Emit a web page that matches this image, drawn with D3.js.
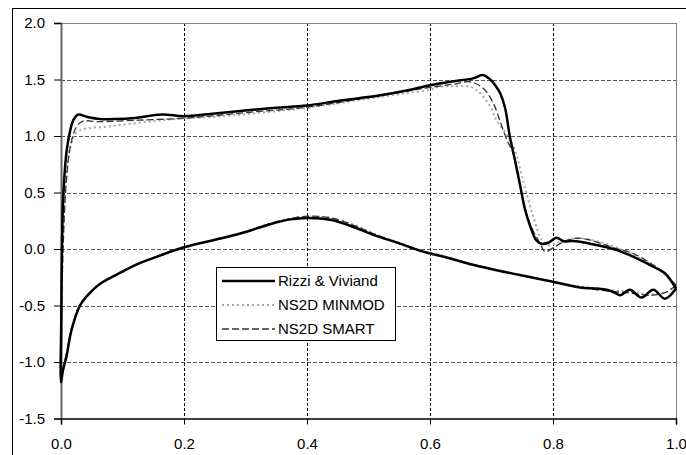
<!DOCTYPE html>
<html>
<head>
<meta charset="utf-8">
<script src="https://cdn.jsdelivr.net/npm/d3@7"></script>
<style>
  body { margin: 0; background: #fff; }
  text { font-family: "Liberation Sans", Arial, sans-serif; }
</style>
</head>
<body>
<svg id="drawing_region"></svg>
<script>
// tick values
const xTicks = [0, 0.2, 0.4, 0.6, 0.8, 1.0];
const yTicks = [-1.5, -1.0, -0.5, 0.0, 0.5, 1.0, 1.5, 2.0];

// Rizzi & Viviand
const rizziUpperX = [0, 0.0005, 0.0015, 0.004, 0.009, 0.015, 0.02, 0.028, 0.042, 0.063, 0.09, 0.12, 0.164, 0.2, 0.25, 0.307, 0.35, 0.4, 0.45, 0.519, 0.56, 0.6, 0.633, 0.67, 0.686, 0.698, 0.706, 0.714, 0.722, 0.730, 0.738, 0.746, 0.754, 0.763, 0.773, 0.782, 0.792, 0.806, 0.817, 0.83, 0.844, 0.871, 0.904, 0.931, 0.963, 0.982, 1.0];
const rizziUpperCp = [-1.18, -0.6, 0.0, 0.5, 0.86, 1.05, 1.14, 1.19, 1.17, 1.15, 1.15, 1.16, 1.19, 1.175, 1.2, 1.23, 1.25, 1.27, 1.31, 1.36, 1.40, 1.45, 1.48, 1.51, 1.54, 1.50, 1.45, 1.38, 1.25, 0.99, 0.79, 0.58, 0.36, 0.2, 0.075, 0.045, 0.055, 0.10, 0.068, 0.07, 0.065, 0.035, -0.01, -0.07, -0.157, -0.215, -0.35];
const rizziLowerX = [0, 0.003, 0.009, 0.017, 0.031, 0.045, 0.063, 0.1, 0.126, 0.16, 0.2, 0.261, 0.3, 0.337, 0.37, 0.402, 0.44, 0.478, 0.508, 0.55, 0.584, 0.63, 0.67, 0.71, 0.746, 0.8, 0.844, 0.87, 0.887, 0.9, 0.909, 0.925, 0.944, 0.963, 0.982, 1.0];
const rizziLowerCp = [-1.18, -1.08, -0.95, -0.72, -0.5, -0.40, -0.31, -0.2, -0.13, -0.06, 0.015, 0.095, 0.15, 0.215, 0.26, 0.275, 0.257, 0.19, 0.125, 0.05, -0.015, -0.08, -0.14, -0.19, -0.23, -0.29, -0.34, -0.35, -0.36, -0.385, -0.41, -0.36, -0.43, -0.36, -0.44, -0.35];

// NS2D MINMOD
const minmodUpperX = [0, 0.001, 0.004, 0.008, 0.015, 0.025, 0.044, 0.07, 0.099, 0.15, 0.2, 0.25, 0.315, 0.4, 0.5, 0.55, 0.6, 0.616, 0.64, 0.665, 0.681, 0.698, 0.708, 0.724, 0.738, 0.754, 0.768, 0.782, 0.792, 0.806, 0.822, 0.844, 0.87, 0.9, 0.93, 0.96, 0.98, 1.0];
const minmodUpperCp = [-1.18, -0.5, 0.2, 0.6, 0.9, 1.03, 1.07, 1.08, 1.10, 1.13, 1.157, 1.17, 1.2, 1.25, 1.33, 1.37, 1.41, 1.436, 1.44, 1.436, 1.38, 1.26, 1.14, 1.02, 0.876, 0.55, 0.286, 0.08, 0.035, 0.05, 0.08, 0.095, 0.07, 0.02, -0.05, -0.14, -0.22, -0.32];

// NS2D SMART
const smartUpperX = [0, 0.001, 0.004, 0.008, 0.015, 0.025, 0.035, 0.061, 0.126, 0.2, 0.25, 0.307, 0.4, 0.5, 0.6, 0.64, 0.665, 0.687, 0.703, 0.714, 0.725, 0.735, 0.749, 0.762, 0.779, 0.787, 0.803, 0.82, 0.838, 0.86, 0.893, 0.93, 0.96, 0.98, 1.0];
const smartUpperCp = [-1.18, -0.55, 0.1, 0.55, 0.9, 1.08, 1.13, 1.127, 1.14, 1.157, 1.18, 1.21, 1.255, 1.34, 1.43, 1.46, 1.48, 1.42, 1.29, 1.13, 0.965, 0.85, 0.49, 0.23, 0.05, -0.024, 0.02, 0.07, 0.095, 0.08, 0.02, -0.04, -0.13, -0.21, -0.32];

// lower surface of both NS2D runs
const ns2dLowerX = [0, 0.003, 0.009, 0.017, 0.031, 0.045, 0.063, 0.1, 0.126, 0.16, 0.2, 0.261, 0.3, 0.337, 0.37, 0.4, 0.44, 0.478, 0.508, 0.55, 0.584, 0.63, 0.67, 0.71, 0.746, 0.8, 0.844, 0.887, 0.925, 0.96, 0.985, 1.0];
const minmodLowerCp = [-1.18, -1.05, -0.92, -0.70, -0.49, -0.40, -0.31, -0.2, -0.13, -0.06, 0.015, 0.095, 0.15, 0.22, 0.265, 0.285, 0.27, 0.21, 0.14, 0.055, -0.01, -0.075, -0.14, -0.19, -0.23, -0.29, -0.33, -0.36, -0.38, -0.40, -0.38, -0.32];
const smartLowerCp = [-1.18, -1.06, -0.93, -0.71, -0.49, -0.40, -0.31, -0.2, -0.13, -0.06, 0.015, 0.095, 0.15, 0.22, 0.265, 0.29, 0.275, 0.205, 0.135, 0.05, -0.015, -0.08, -0.14, -0.19, -0.23, -0.29, -0.34, -0.37, -0.39, -0.41, -0.38, -0.32];

const seriesNames = ["Rizzi & Viviand", "NS2D MINMOD", "NS2D SMART"];

function loop(upX, upY, loX, loY) {
    // trailing edge -> lower surface -> leading edge -> upper surface
    const lower = loX.map((x, i) => ({x: x, y: loY[i]})).reverse();
    const upper = upX.map((x, i) => ({x: x, y: upY[i]}));
    return lower.concat(upper.slice(1));
}

const series = [
    {name: seriesNames[1], pts: loop(minmodUpperX, minmodUpperCp, ns2dLowerX, minmodLowerCp),
     stroke: '#a6a6a6', width: 2, dash: '2,3'},
    {name: seriesNames[2], pts: loop(smartUpperX, smartUpperCp, ns2dLowerX, smartLowerCp),
     stroke: '#333', width: 1.3, dash: '7,3'},
    {name: seriesNames[0], pts: loop(rizziUpperX, rizziUpperCp, rizziLowerX, rizziLowerCp),
     stroke: '#000', width: 2.5, dash: null}
];

const W = 686, H = 455;
const plot = {left: 61, right: 676, top: 23, bottom: 418.5};

const svg = d3.select('#drawing_region')
    .attr('width', W)
    .attr('height', H);

// outer chart border
svg.append('rect')
    .attr('x', 12.5).attr('y', 8.5)
    .attr('width', W).attr('height', H)
    .attr('fill', '#fff')
    .attr('stroke', '#000');

const xscale = d3.scaleLinear().domain([0, 1]).range([plot.left, plot.right]);
const yscale = d3.scaleLinear().domain([-1.5, 2]).range([plot.bottom, plot.top]);

// grid
const grid = svg.append('g');
grid.selectAll('.hgrid')
    .data(yTicks.filter(d => d > -1.5 && d < 2))
    .enter().append('line')
    .attr('x1', plot.left).attr('x2', plot.right)
    .attr('y1', d => Math.round(yscale(d)) + 0.5)
    .attr('y2', d => Math.round(yscale(d)) + 0.5)
    .attr('stroke', '#555')
    .attr('stroke-dasharray', '4,2');
grid.selectAll('.vgrid')
    .data(xTicks.filter(d => d > 0 && d < 1))
    .enter().append('line')
    .attr('x1', d => Math.round(xscale(d)) + 0.5)
    .attr('x2', d => Math.round(xscale(d)) + 0.5)
    .attr('y1', plot.top).attr('y2', plot.bottom)
    .attr('stroke', '#000')
    .attr('stroke-dasharray', '3,2');

// plot area frame
svg.append('line')
    .attr('x1', plot.left).attr('x2', plot.right)
    .attr('y1', Math.round(plot.top) + 0.5).attr('y2', Math.round(plot.top) + 0.5)
    .attr('stroke', '#808080');
svg.append('line')
    .attr('x1', Math.round(plot.right) + 0.5).attr('x2', Math.round(plot.right) + 0.5)
    .attr('y1', plot.top).attr('y2', plot.bottom)
    .attr('stroke', '#808080');

// axes
const xaxis = d3.axisBottom(xscale)
    .tickValues(xTicks)
    .tickSize(6)
    .tickPadding(14)
    .tickFormat(d => d.toFixed(1));
const yaxis = d3.axisLeft(yscale)
    .tickValues(yTicks)
    .tickSize(7)
    .tickPadding(9)
    .tickFormat(d => d.toFixed(1));

const yaxis_group = svg.append('g')
    .attr('transform', `translate(${plot.left}, 0)`)
    .call(yaxis);
yaxis_group.select('.domain').attr('stroke', '#666').attr('stroke-width', 2);

const xaxis_group = svg.append('g')
    .attr('transform', `translate(0, ${plot.bottom})`)
    .call(xaxis);
xaxis_group.select('.domain').attr('stroke', '#000').attr('stroke-width', 1.5);

svg.selectAll('.tick text')
    .attr('font-family', '"Liberation Sans", Arial, sans-serif')
    .attr('font-size', 15)
    .attr('fill', '#000');
svg.selectAll('.tick line').attr('stroke', '#000');

// curves
const line = d3.line()
    .x(d => xscale(d.x))
    .y(d => yscale(d.y))
    .curve(d3.curveCatmullRom.alpha(0.5));

svg.selectAll('.series')
    .data(series)
    .enter().append('path')
    .attr('d', d => line(d.pts))
    .attr('fill', 'none')
    .attr('stroke', d => d.stroke)
    .attr('stroke-width', d => d.width)
    .attr('stroke-dasharray', d => d.dash)
    .attr('stroke-linejoin', 'round');

// legend
const legend = svg.append('g');
legend.append('rect')
    .attr('x', 216.5).attr('y', 267.5)
    .attr('width', 179).attr('height', 73)
    .attr('fill', '#fff')
    .attr('stroke', '#000');

const legendOrder = [series[2], series[0], series[1]];
const rows = legend.selectAll('.row')
    .data(legendOrder)
    .enter().append('g')
    .attr('transform', (d, i) => `translate(0, ${281 + i * 24})`);
rows.append('line')
    .attr('x1', 222).attr('x2', 275)
    .attr('stroke', d => d.stroke)
    .attr('stroke-width', d => d.width)
    .attr('stroke-dasharray', d => d.dash);
rows.append('text')
    .attr('x', 278)
    .attr('dy', '0.36em')
    .attr('font-size', 15)
    .text(d => d.name);
</script>
</body>
</html>
